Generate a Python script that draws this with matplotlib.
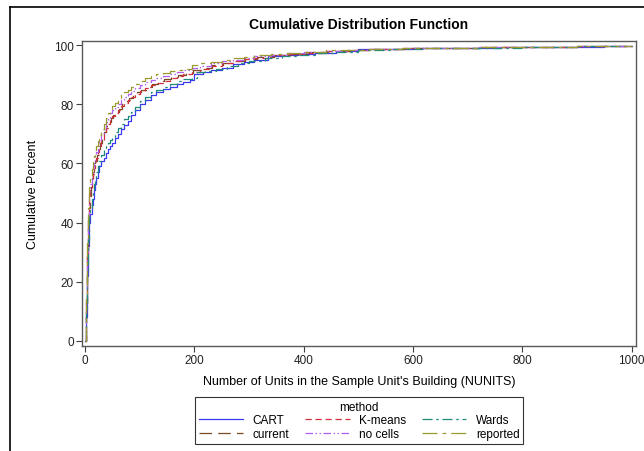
import matplotlib
matplotlib.use("Agg")
import matplotlib.pyplot as plt
from matplotlib.lines import Line2D

plt.rcParams['font.family'] = ['Liberation Sans', 'DejaVu Sans']

title = "Cumulative Distribution Function"
xlabel = "Number of Units in the Sample Unit's Building (NUNITS)"
ylabel = "Cumulative Percent"
legend_title = "method"
xticks = [0, 200, 400, 600, 800, 1000]
yticks = [0, 20, 40, 60, 80, 100]

cart_x = [0, 1, 2, 3, 4, 5, 6, 7, 8, 10, 12, 14, 16, 18, 20, 23, 26, 30, 34, 38, 42, 46, 50, 55, 60, 66, 72, 78, 85, 92,
          100, 110, 120, 130, 142, 155, 168, 180, 192, 200, 215, 230, 250, 270, 290, 310, 335, 360, 390, 420, 460, 500,
          550, 600, 680, 760, 850, 950, 1000]
cart_y = [0, 3, 8, 15, 22, 27, 32, 36, 40, 43, 46, 48, 51, 53, 55, 57, 59, 61, 62, 63.5, 65, 66, 67, 68.5, 70, 71.5, 73,
          74.5, 76.5, 78, 80, 81.5, 83, 84, 85.2, 86, 87, 87.5, 88.3, 90.2, 90.8, 91.5, 92.3, 93.6, 94.3, 95, 96.3, 96.7,
          97.1, 97.5, 98, 98.6, 98.8, 99, 99.2, 99.3, 99.5, 99.6, 99.7]

wards_x = [0, 1, 2, 3, 4, 5, 6, 7, 8, 10, 12, 14, 16, 18, 20, 23, 26, 30, 34, 38, 42, 46, 50, 55, 60, 66, 72, 78, 85, 92,
           100, 110, 120, 130, 142, 155, 168, 180, 195, 205, 220, 240, 260, 280, 300, 330, 360, 390, 420, 460, 500, 560,
           620, 700, 800, 900, 1000]
wards_y = [0, 4, 10, 17, 24, 29, 34, 38, 42, 45, 48, 51, 53, 55, 57, 59, 61, 63, 64.5, 66, 67, 68, 69, 70.5, 72, 73.5, 75,
           76, 77.5, 79, 81, 82.5, 84, 85, 86, 87, 88, 88.5, 89, 90.8, 91.3, 92, 92.8, 93.8, 94.5, 95.5, 96.3, 96.8, 97.3,
           97.8, 98.4, 98.8, 99, 99.2, 99.4, 99.6, 99.7]

kmeans_x = [0, 1, 2, 3, 4, 5, 6, 7, 8, 10, 12, 14, 16, 18, 20, 23, 26, 30, 34, 38, 42, 46, 50, 55, 60, 66, 72, 78, 85, 92,
            100, 110, 120, 130, 142, 155, 168, 180, 195, 210, 230, 250, 270, 290, 310, 340, 370, 400, 440, 480, 520, 580,
            650, 720, 800, 900, 1000]
kmeans_y = [0, 5, 12, 20, 28, 35, 40, 44, 48, 51, 54, 56.5, 58.5, 60.5, 62, 64, 66, 68, 70, 72, 73.5, 75, 76, 77, 78,
            79.5, 80.5, 81.5, 82.5, 83.5, 84.5, 85.5, 86.5, 87.3, 88, 89, 89.7, 90.3, 91, 92, 93, 93.8, 94.5, 95.2, 95.8,
            96.5, 97, 97.5, 98, 98.3, 98.7, 99, 99.2, 99.3, 99.5, 99.6, 99.7]

current_x = [0, 1, 2, 3, 4, 5, 6, 7, 9, 11, 13, 15, 17, 19, 22, 25, 28, 31, 35, 39, 43, 47, 52, 57, 62, 68, 74, 80, 87, 95,
             103, 112, 122, 133, 145, 158, 170, 185, 198, 212, 232, 252, 272, 292, 315, 345, 375, 405, 445, 485, 525, 590,
             660, 730, 810, 900, 1000]
current_y = [0, 5, 13, 21, 29, 36, 41, 45, 49, 52, 55, 57, 59, 61, 63, 65, 67, 68.5, 70.5, 72.5, 74, 75.5, 76.5, 77.5,
             78.5, 80, 81, 82, 83, 84, 85, 86, 87, 87.8, 88.5, 89.3, 90, 90.6, 91.5, 92.3, 93.2, 94, 94.7, 95.4, 96, 96.6,
             97.1, 97.6, 98, 98.4, 98.8, 99, 99.2, 99.3, 99.5, 99.6, 99.7]

nocells_x = [0, 1, 2, 3, 4, 5, 6, 7, 8, 10, 12, 14, 16, 18, 20, 23, 26, 30, 34, 38, 42, 46, 50, 55, 60, 66, 72, 78, 85, 92,
             100, 110, 120, 130, 142, 155, 168, 180, 195, 210, 230, 250, 270, 290, 310, 340, 370, 400, 440, 480, 520, 580,
             650, 720, 800, 900, 1000]
nocells_y = [0, 6, 14, 22, 30, 37, 42, 46, 50, 53, 56, 58.5, 60.5, 62.5, 64, 66, 68, 70, 72, 74, 75.5, 77, 78, 79, 80,
             81.5, 82.5, 83.5, 84.5, 85.5, 86.5, 87.5, 88.3, 89, 89.6, 90.3, 91, 91.5, 92.2, 93, 93.8, 94.5, 95.1, 95.7,
             96.2, 96.8, 97.3, 97.7, 98.1, 98.4, 98.8, 99, 99.2, 99.3, 99.5, 99.6, 99.7]

reported_x = [0, 1, 2, 3, 4, 5, 6, 7, 8, 10, 12, 14, 16, 18, 20, 23, 26, 30, 34, 38, 42, 46, 50, 55, 60, 66, 72, 78, 85,
              92, 100, 110, 120, 130, 142, 155, 168, 180, 195, 210, 230, 250, 270, 290, 310, 340, 370, 400, 440, 480, 520,
              580, 650, 720, 800, 900, 1000]
reported_y = [0, 7, 16, 25, 33, 40, 45, 49, 52, 55, 58, 60.5, 62.5, 64.5, 66, 67.5, 69.5, 71.5, 73.5, 75.5, 77, 78.5,
              79.5, 80.5, 82, 83, 84, 85, 86, 87, 88, 89, 89.7, 90.2, 90.7, 91.2, 91.7, 92, 93.4, 93.8, 94.4, 95, 95.5,
              96, 96.5, 97, 97.4, 97.8, 98.2, 98.5, 98.8, 99, 99.2, 99.3, 99.5, 99.6, 99.7]

series = [
    ("CART", cart_x, cart_y, '#3a3af0', '-'),
    ("current", current_x, current_y, '#7a4a24', (0, (10, 5))),
    ("K-means", kmeans_x, kmeans_y, '#d0303c', (0, (5, 3))),
    ("no cells", nocells_x, nocells_y, '#b060f0', (0, (6, 2, 1.2, 2, 1.2, 2))),
    ("Wards", wards_x, wards_y, '#1f8a7a', (0, (8, 3, 2, 3))),
    ("reported", reported_x, reported_y, '#9a9a30', (0, (12, 4, 3, 4))),
]

fig = plt.figure(figsize=(6.44, 4.52), dpi=100)
ax = fig.add_axes([82 / 644, 1 - 347 / 452, (636 - 82) / 644, (347 - 42) / 452])

handles = []
for name, xs, ys, col, ls in series:
    h, = ax.plot(xs, ys, drawstyle='steps-post', color=col, linestyle=ls, linewidth=0.9, label=name)
    handles.append(h)

ax.set_xlim(-5.5, 1008)
ax.set_ylim(-1.7, 101.4)
ax.set_xticks(xticks)
ax.set_yticks(yticks)
ax.tick_params(labelsize=8.5, length=4, color='#404040', labelcolor='#222222', pad=2)
for s in ax.spines.values():
    s.set_color('#5a5a5a')
    s.set_linewidth(1.0)
ax.set_xlabel(xlabel, fontsize=9)
ax.set_ylabel(ylabel, fontsize=9)
ax.xaxis.set_label_coords(0.5, -0.095)
ax.yaxis.set_label_coords(-0.078, 0.5)

fig.text(359 / 644, 1 - 25 / 452, title, ha='center', va='center', fontsize=10, fontweight='bold')

leg = fig.legend(handles=handles, title=legend_title, ncol=3, loc='upper center',
                 bbox_to_anchor=(359 / 644, 1 - 398 / 452), fontsize=8.5, title_fontsize=8.5,
                 frameon=True, fancybox=False, edgecolor='black', handlelength=3.8,
                 borderpad=0.3, labelspacing=0.15, columnspacing=1.3, handletextpad=0.8, borderaxespad=0)
leg.get_frame().set_linewidth(0.8)

fig.add_artist(Line2D([10 / 644, 1], [1 - 8 / 452, 1 - 8 / 452], color='black', linewidth=1.2,
                      transform=fig.transFigure))
fig.add_artist(Line2D([10 / 644, 10 / 644], [1 - 8 / 452, 0], color='black', linewidth=1.2,
                      transform=fig.transFigure))

fig.savefig('out.png', dpi=100)
